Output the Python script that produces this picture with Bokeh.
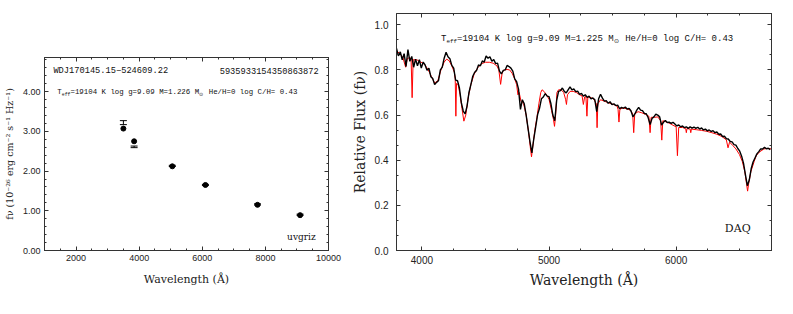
from bokeh.plotting import figure
from bokeh.models import (LinearAxis, SingleIntervalTicker, Label, NumeralTickFormatter, Range1d,
                          CustomJSTickFormatter)
from bokeh.layouts import row, column
from bokeh.embed import file_html
from bokeh.resources import INLINE

# ---------------- left panel data (SkyMapper photometry) ----------------
bands = ["u", "v", "g", "r", "i", "z"]
phot_wave = [3500, 3840, 5050, 6100, 7750, 9100]
model_flux = [3.07, 2.75, 2.12, 1.65, 1.15, 0.89]
obs_flux = [3.22, 2.61, 2.13, 1.65, 1.16, 0.90]
obs_err = [0.05, 0.02, 0.015, 0.015, 0.015, 0.015]

# ---------------- right panel data (spectrum) ----------------
obs_wave_start, obs_wave_step = 3800, 15
obs_spec = [
    0.895, 0.862, 0.880, 0.845, 0.872, 0.815, 0.890, 0.838, 0.860, 0.812,
    0.848, 0.818, 0.845, 0.808, 0.835, 0.822, 0.798, 0.808, 0.770, 0.762,
    0.735, 0.745, 0.752, 0.800, 0.812, 0.852, 0.878, 0.858, 0.850, 0.820,
    0.808, 0.755, 0.752, 0.720, 0.655, 0.618, 0.605, 0.640, 0.700, 0.735,
    0.772, 0.790, 0.798, 0.822, 0.818, 0.840, 0.835, 0.862, 0.852, 0.858,
    0.838, 0.846, 0.828, 0.830, 0.795, 0.782, 0.798, 0.800, 0.820, 0.815,
    0.808, 0.795, 0.760, 0.748, 0.715, 0.625, 0.668, 0.650, 0.600, 0.540,
    0.482, 0.432, 0.495, 0.548, 0.602, 0.630, 0.672, 0.680, 0.695, 0.684,
    0.682, 0.650, 0.600, 0.575, 0.665, 0.705, 0.708, 0.720, 0.705, 0.698,
    0.712, 0.725, 0.712, 0.716, 0.704, 0.706, 0.692, 0.696, 0.684, 0.690,
    0.678, 0.684, 0.672, 0.676, 0.668, 0.615, 0.672, 0.692, 0.675, 0.662,
    0.664, 0.652, 0.659, 0.646, 0.650, 0.642, 0.644, 0.628, 0.634, 0.630,
    0.636, 0.626, 0.630, 0.618, 0.592, 0.605, 0.622, 0.634, 0.622, 0.620,
    0.607, 0.606, 0.588, 0.558, 0.585, 0.592, 0.604, 0.600, 0.592, 0.556,
    0.568, 0.576, 0.567, 0.569, 0.563, 0.568, 0.560, 0.552, 0.556, 0.548,
    0.552, 0.544, 0.548, 0.541, 0.548, 0.542, 0.547, 0.541, 0.546, 0.538,
    0.543, 0.534, 0.538, 0.530, 0.534, 0.527, 0.531, 0.522, 0.525, 0.515,
    0.516, 0.505, 0.506, 0.495, 0.494, 0.483, 0.481, 0.469, 0.467, 0.452,
    0.440, 0.418, 0.386, 0.335, 0.287, 0.312, 0.362, 0.392, 0.410, 0.428,
    0.438, 0.450, 0.450, 0.457, 0.451, 0.453, 0.447,
]
obs_wave = [obs_wave_start + obs_wave_step * i for i in range(len(obs_spec))]

model_wave = [
    3800, 3830, 3850, 3872, 3885, 3905, 3915, 3923, 3931, 3960,
    3990, 4020, 4050, 4075, 4100, 4125, 4150, 4175, 4195, 4215,
    4235, 4255, 4262, 4267, 4272, 4285, 4300, 4315, 4330, 4345,
    4365, 4385, 4410, 4440, 4470, 4500, 4530, 4560, 4590, 4605,
    4619, 4632, 4650, 4670, 4690, 4710, 4730, 4745, 4755, 4765,
    4780, 4800, 4820, 4840, 4852, 4862, 4872, 4889, 4905, 4920,
    4935, 4945, 4960, 4980, 5000, 5020, 5035, 5043, 5052, 5062,
    5075, 5095, 5115, 5130, 5137, 5145, 5165, 5190, 5215, 5240,
    5260, 5270, 5280, 5290, 5298, 5305, 5330, 5350, 5372, 5378,
    5384, 5405, 5430, 5455, 5480, 5505, 5535, 5543, 5550, 5557,
    5580, 5610, 5640, 5658, 5666, 5674, 5700, 5730, 5760, 5785,
    5795, 5803, 5830, 5855, 5878, 5887, 5895, 5920, 5950, 5975,
    6000, 6010, 6020, 6050, 6075, 6080, 6085, 6110, 6115, 6120,
    6160, 6200, 6240, 6280, 6320, 6360, 6395, 6408, 6420, 6446,
    6470, 6498, 6520, 6540, 6555, 6562, 6570, 6588, 6614, 6630,
    6652, 6690, 6720, 6750,
]
model_spec = [
    0.885, 0.870, 0.855, 0.812, 0.850, 0.855, 0.845, 0.677, 0.845, 0.845,
    0.835, 0.825, 0.800, 0.770, 0.742, 0.752, 0.800, 0.835, 0.848, 0.840,
    0.818, 0.790, 0.760, 0.595, 0.740, 0.735, 0.690, 0.630, 0.573, 0.600,
    0.680, 0.735, 0.780, 0.810, 0.828, 0.834, 0.834, 0.830, 0.818, 0.800,
    0.736, 0.790, 0.800, 0.802, 0.800, 0.785, 0.760, 0.735, 0.690, 0.700,
    0.660, 0.650, 0.600, 0.520, 0.460, 0.415, 0.460, 0.536, 0.590, 0.650,
    0.700, 0.712, 0.705, 0.690, 0.670, 0.620, 0.580, 0.550, 0.600, 0.700,
    0.712, 0.712, 0.700, 0.670, 0.647, 0.690, 0.705, 0.705, 0.700, 0.690,
    0.685, 0.647, 0.680, 0.682, 0.595, 0.680, 0.677, 0.672, 0.650, 0.544,
    0.650, 0.668, 0.663, 0.657, 0.652, 0.647, 0.640, 0.625, 0.569, 0.625,
    0.632, 0.628, 0.622, 0.605, 0.522, 0.605, 0.615, 0.610, 0.603, 0.595,
    0.522, 0.590, 0.590, 0.592, 0.575, 0.489, 0.575, 0.570, 0.563, 0.555,
    0.548, 0.420, 0.545, 0.545, 0.540, 0.522, 0.540, 0.538, 0.522, 0.538,
    0.535, 0.532, 0.528, 0.522, 0.515, 0.505, 0.490, 0.455, 0.480, 0.465,
    0.450, 0.425, 0.395, 0.350, 0.290, 0.263, 0.295, 0.350, 0.395, 0.420,
    0.435, 0.450, 0.452, 0.450,
]

name_left = "WDJ170145.15\u2212524609.22"
gaia_id = "5935933154350863872"
params_left = ["T", "eff", "=19104 K log g=9.09 M=1.226 M", "\u2299", "He/H=0 log C/H= 0.43"]
params_right = ["T", "eff", "=19104 K log g=9.09 M=1.225 M", "\u2299", "He/H=0 log C/H= 0.43"]
filters_text = "uvgriz"
spec_type = "DAQ"

SERIF = "DejaVu Serif"
MONO = "Liberation Mono"
SANS = "Liberation Sans"
FRAME = "#333333"


def style(p, xint, xminor, yint, yminor, tick_size, fmt):
    p.outline_line_color = FRAME
    p.outline_line_width = 1
    p.grid.visible = False
    xb = p.below[0]
    yl = p.left[0]
    xb.ticker = SingleIntervalTicker(interval=xint, num_minor_ticks=xminor)
    yl.ticker = SingleIntervalTicker(interval=yint, num_minor_ticks=yminor)
    yl.formatter = NumeralTickFormatter(format=fmt)
    for ax in (xb, yl):
        ax.major_tick_in = 4
        ax.major_tick_out = 0
        ax.minor_tick_in = 2
        ax.minor_tick_out = 0
        ax.axis_line_color = FRAME
        ax.major_tick_line_color = FRAME
        ax.minor_tick_line_color = FRAME
        ax.major_label_text_font = SANS
        ax.major_label_text_font_size = tick_size
        ax.major_label_text_color = "#222222"
        ax.axis_label_text_font = SERIF
        ax.axis_label_text_font_style = "normal"
        ax.axis_label_text_color = "#222222"
    for loc, tint, tminor in (("above", xint, xminor), ("right", yint, yminor)):
        ax = LinearAxis(ticker=SingleIntervalTicker(interval=tint, num_minor_ticks=tminor),
                        formatter=CustomJSTickFormatter(code="return '';"),
                        major_label_standoff=0,
                        major_tick_in=4, major_tick_out=0, minor_tick_in=2, minor_tick_out=0,
                        axis_line_color=FRAME, major_tick_line_color=FRAME,
                        minor_tick_line_color=FRAME)
        p.add_layout(ax, loc)
    return xb, yl


def param_labels(p, parts, x, y, size):
    cw = 0.6 * size
    sub = 0.65 * size
    cws = 0.6 * sub
    off = 0.0
    for k, t in enumerate(parts):
        small = k in (1, 3)
        fs = sub if small else size
        p.add_layout(Label(x=x, y=y, x_offset=off, y_offset=(-2.5 if small else 0), text=t,
                           text_font=MONO, text_font_size=f"{fs:.1f}px",
                           text_baseline="alphabetic", text_color="#111111"))
        if k == 3:
            off += 1.05 * sub + cw  # symbol width plus the word space
        else:
            off += len(t) * (cws if small else cw)


# ---------------- left figure ----------------
p1 = figure(width=348, height=290, output_backend="svg", toolbar_location=None,
            x_range=Range1d(1000, 10000), y_range=Range1d(0, 4.86),
            min_border_left=41, min_border_right=20, min_border_top=57, min_border_bottom=40)
xb1, yl1 = style(p1, 2000, 4, 1.0, 5, "9px", "0.00")
xb1.axis_label = "Wavelength (\u00c5)"
xb1.axis_label_text_font_size = "11px"
xb1.major_label_standoff = 4
xb1.axis_label_standoff = 9
yl1.axis_label = "f\u03bd (10\u207b\u00b2\u2076 erg cm\u207b\u00b2 s\u207b\u00b9 Hz\u207b\u00b9)"
yl1.axis_label_text_font_size = "9.5px"
yl1.major_label_standoff = 4
yl1.axis_label_standoff = 5

lo = [f - e for f, e in zip(obs_flux, obs_err)]
hi = [f + e for f, e in zip(obs_flux, obs_err)]
p1.segment(x0=phot_wave, y0=lo, x1=phot_wave, y1=hi, line_color="black", line_width=1)
p1.scatter(x=phot_wave, y=lo, marker="dash", size=7, line_color="black", line_width=1)
p1.scatter(x=phot_wave, y=hi, marker="dash", size=7, line_color="black", line_width=1)
p1.scatter(x=phot_wave, y=model_flux, marker="circle", size=5, fill_color="black", line_color="black")

p1.add_layout(Label(x=1282, y=4.51, text=name_left, text_font=MONO, text_font_size="8.7px",
                    text_baseline="middle", text_color="#111111"))
p1.add_layout(Label(x=9690, y=4.51, text=gaia_id, text_font=MONO, text_font_size="8.7px",
                    text_baseline="middle", text_align="right", text_color="#111111"))
param_labels(p1, params_left, 1408, 3.98, 7.4)
p1.add_layout(Label(x=9593, y=0.33, text=filters_text, text_font=SERIF, text_font_size="9px",
                    text_baseline="middle", text_align="right", text_color="#111111"))

# ---------------- right figure ----------------
p2 = figure(width=429, height=290, output_backend="svg", toolbar_location=None,
            x_range=Range1d(3800, 6750), y_range=Range1d(0, 1.05),
            min_border_left=41, min_border_right=6, min_border_top=13, min_border_bottom=40)
xb2, yl2 = style(p2, 1000, 4, 0.2, 3, "10px", "0.0")
xb2.axis_label = "Wavelength (\u00c5)"
xb2.axis_label_text_font_size = "14px"
xb2.major_label_standoff = 5
xb2.axis_label_standoff = 5
yl2.axis_label = "Relative Flux (f\u03bd)"
yl2.axis_label_text_font_size = "14px"
yl2.major_label_standoff = 8
yl2.axis_label_standoff = 4

p2.line(x=model_wave, y=model_spec, line_color="red", line_width=1)
p2.line(x=obs_wave, y=obs_spec, line_color="black", line_width=1.4)

param_labels(p2, params_right, 4151, 0.938, 9.0)
p2.add_layout(Label(x=6586, y=0.096, text=spec_type, text_font=SERIF, text_font_size="11px",
                    text_baseline="middle", text_align="right", text_color="#111111"))

layout = row(column(p1), column(p2))
open("out.html", "w").write(file_html(layout, INLINE))
